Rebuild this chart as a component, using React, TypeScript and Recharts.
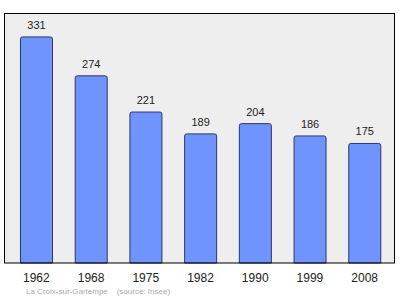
import { BarChart, Bar, XAxis, YAxis, CartesianGrid, LabelList } from "recharts"

const years = ["1962", "1968", "1975", "1982", "1990", "1999", "2008"]
const population = [331, 274, 221, 189, 204, 186, 175]

const data = years.map((year, i) => ({ year, population: population[i] }))

const FONT = "'Liberation Sans', Arial, sans-serif"

export default function App() {
  return (
    <div style={{ position: "absolute", left: 0, top: 0, width: 400, height: 299, background: "#fff" }}>
      <BarChart
        width={400}
        height={299}
        data={data}
        margin={{ top: 13, right: 5, left: 4, bottom: 0 }}
        barCategoryGap="21%"
      >
        <CartesianGrid horizontal={false} vertical={false} fill="#eeeeee" fillOpacity={1} />
        <XAxis
          dataKey="year"
          height={36}
          padding={{ left: 5, right: 3 }}
          axisLine={{ stroke: "#000", strokeWidth: 1 }}
          tickLine={false}
          tickSize={0}
          tickMargin={10}
          interval={0}
          tick={{ fill: "#222", fontSize: 12, fontFamily: FONT }}
        />
        <YAxis domain={[0, 366]} hide />
        <Bar
          dataKey="population"
          fill="#6f94fd"
          stroke="#2b3766"
          strokeWidth={1}
          radius={[2, 2, 0, 0]}
          isAnimationActive={false}
        >
          <LabelList dataKey="population" position="top" offset={8} fill="#222" fontSize={11} fontFamily={FONT} />
        </Bar>
      </BarChart>
      {/* plot frame */}
      <div
        style={{
          position: "absolute",
          left: 4,
          top: 13,
          width: 391,
          height: 250,
          boxSizing: "border-box",
          borderTop: "1px solid #000",
          borderLeft: "1px solid #000",
          borderRight: "1px solid #000",
          pointerEvents: "none",
        }}
      />
      <div
        style={{
          position: "absolute",
          left: 26,
          top: 287,
          fontFamily: FONT,
          fontSize: 8,
          color: "#aaaaaa",
          whiteSpace: "pre",
          lineHeight: "10px",
        }}
      >
        {"La Croix-sur-Gartempe    (source: Insee)"}
      </div>
    </div>
  )
}
